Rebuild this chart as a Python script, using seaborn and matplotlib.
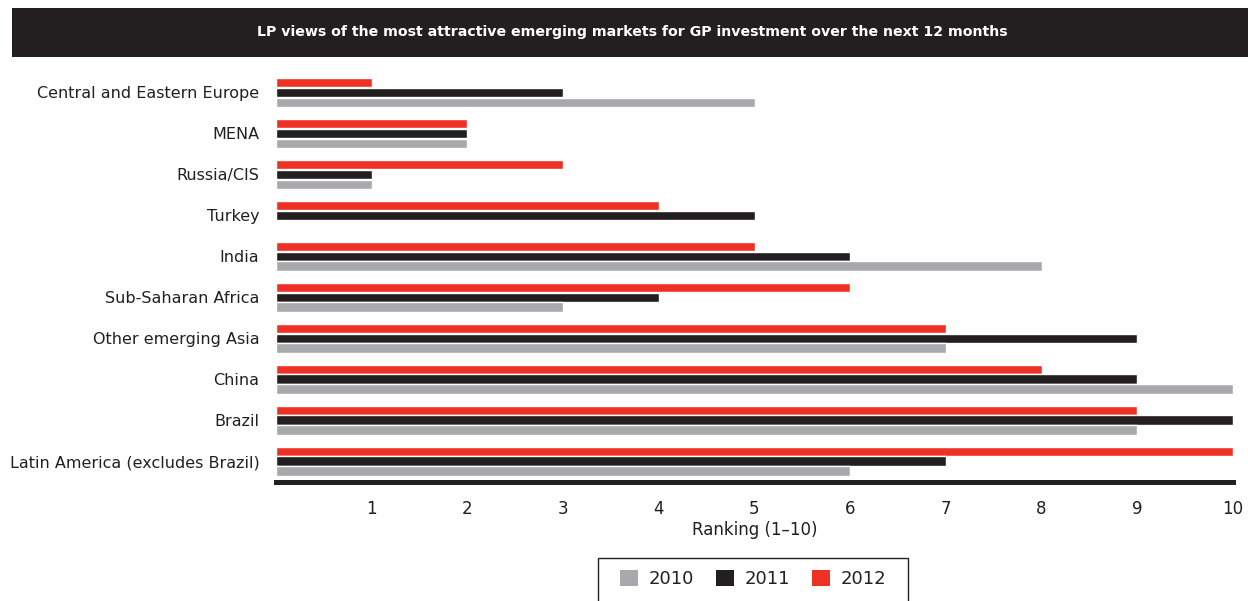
import matplotlib
matplotlib.use("Agg")
import matplotlib.pyplot as plt
import seaborn as sns
import pandas as pd
from matplotlib.patches import Rectangle, Patch

categories = ["Central and Eastern Europe", "MENA", "Russia/CIS", "Turkey", "India",
              "Sub-Saharan Africa", "Other emerging Asia", "China", "Brazil",
              "Latin America (excludes Brazil)"]
rank_2010 = [5, 2, 1, None, 8, 3, 7, 10, 9, 6]
rank_2011 = [3, 2, 1, 5, 6, 4, 9, 9, 10, 7]
rank_2012 = [1, 2, 3, 4, 5, 6, 7, 8, 9, 10]
years = ["2010", "2011", "2012"]
colors = {"2010": "#a7a9ac", "2011": "#231f20", "2012": "#ef3125"}
xticks = [1, 2, 3, 4, 5, 6, 7, 8, 9, 10]

rows = []
for yr, vals in zip(years, [rank_2010, rank_2011, rank_2012]):
    for c, v in zip(categories, vals):
        if v is not None:
            rows.append({"Market": c, "Year": yr, "Rank": v})
df = pd.DataFrame(rows)

sns.set_style("white")
plt.rcParams['font.family'] = ['DejaVu Sans']

fig = plt.figure(figsize=(12.48, 6.01), dpi=100)
ax = fig.add_axes([276/1248, 1-482/601, (1233-276)/1248, (482-72)/601])

sns.barplot(data=df, y="Market", x="Rank", hue="Year", order=categories,
            hue_order=["2012", "2011", "2010"], palette=colors, orient="h",
            width=0.72, gap=0.04, saturation=1, ax=ax, legend=False)

ax.set_xlim(0, 10)
ax.set_ylim(9.51, -0.5)
ax.set_xticks(xticks)
ax.set_xticklabels([str(t) for t in xticks], fontsize=12, color="#231f20")
ax.tick_params(axis="x", length=0, pad=13)
ax.tick_params(axis="y", length=0, pad=12)
for lab in ax.get_yticklabels():
    lab.set_fontsize(11.5)
    lab.set_color("#231f20")
ax.set_ylabel("")
ax.set_xlabel("Ranking (1–10)", fontsize=12, color="#231f20", labelpad=2)
for s in ["top", "right", "left"]:
    ax.spines[s].set_visible(False)
ax.spines["bottom"].set_linewidth(3.6)
ax.spines["bottom"].set_color("#231f20")

# Title bar
fig.patches.append(Rectangle((12/1248, 1-57/601), 1-12/1248, 49/601,
                             transform=fig.transFigure, facecolor="#231f20",
                             edgecolor="none", zorder=0))
fig.text(632/1248, 1-32/601,
         "LP views of the most attractive emerging markets for GP investment over the next 12 months",
         ha="center", va="center", color="white", fontsize=10.2, fontweight="bold")

# Legend box (extends past the bottom edge as in the reference)
fig.patches.append(Rectangle((598/1248, 1-620/601), 310/1248, 62/601,
                             transform=fig.transFigure, facecolor="white",
                             edgecolor="#231f20", linewidth=1.0, zorder=0))
handles = [Patch(facecolor=colors[y], edgecolor="none", label=y) for y in years]
leg = fig.legend(handles=handles, loc="center", bbox_to_anchor=(753/1248, 1-579/601),
                 ncol=3, frameon=False, fontsize=13, handlelength=1.0,
                 handleheight=1.0, columnspacing=1.2, handletextpad=0.6)
for t in leg.get_texts():
    t.set_color("#231f20")

fig.savefig("out.png", dpi=100)
